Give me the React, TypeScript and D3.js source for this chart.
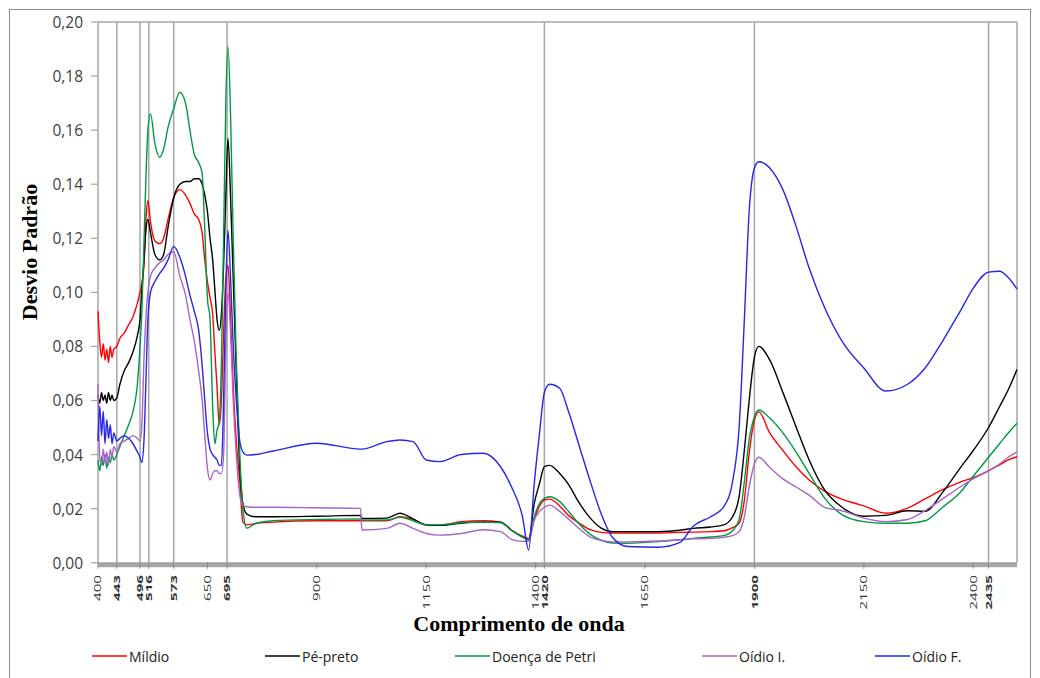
import React from "react";
import * as d3 from "d3";

// wavelength grid (nm)
const wavelengths = [
  400, 404, 408, 412, 416, 420, 424, 428, 432, 436, 443, 450, 460, 470, 480, 490, 496, 500, 505, 510,
  514, 520, 530, 541, 550, 560, 573, 587, 600, 610, 620, 630, 638, 644, 650, 656, 662, 667, 672, 677,
  682, 687, 692, 697, 703, 709, 716, 724, 731, 740, 760, 800, 900, 1000, 1003, 1060, 1090, 1120, 1150, 1180,
  1230, 1280, 1320, 1345, 1370, 1384, 1397, 1409, 1420, 1432, 1455, 1475, 1500, 1525, 1550, 1575, 1610, 1680, 1730, 1760,
  1800, 1830, 1850, 1865, 1877, 1888, 1900, 1910, 1935, 1965, 1995, 2025, 2060, 2100, 2150, 2200, 2250, 2290, 2330, 2370,
  2400, 2435, 2460, 2480, 2500,
];

const mildio = [
  0.093, 0.082, 0.076, 0.081, 0.075, 0.079, 0.074, 0.080, 0.076, 0.079, 0.080, 0.083, 0.085, 0.088, 0.091, 0.096, 0.100, 0.103, 0.110, 0.128,
  0.134, 0.126, 0.119, 0.118, 0.120, 0.127, 0.135, 0.138, 0.136, 0.133, 0.129, 0.127, 0.122, 0.112, 0.104, 0.098, 0.092, 0.078, 0.065, 0.051,
  0.060, 0.085, 0.105, 0.110, 0.090, 0.065, 0.045, 0.030, 0.015, 0.014, 0.0145, 0.015, 0.0155, 0.0155, 0.0155, 0.0155, 0.017, 0.016, 0.014, 0.0138,
  0.0152, 0.0155, 0.015, 0.012, 0.0098, 0.009, 0.016, 0.021, 0.0232, 0.0235, 0.021, 0.0175, 0.0146, 0.0122, 0.0112, 0.011, 0.011, 0.011, 0.0112, 0.0113,
  0.0115, 0.0118, 0.013, 0.0146, 0.0232, 0.0405, 0.0528, 0.0558, 0.048, 0.0415, 0.0355, 0.0306, 0.0265, 0.0235, 0.021, 0.0183, 0.0202, 0.0236, 0.027, 0.0298,
  0.0315, 0.034, 0.0362, 0.038, 0.0392,
];

const pePreto = [
  0.062, 0.059, 0.063, 0.060, 0.062, 0.059, 0.063, 0.060, 0.062, 0.060, 0.061, 0.066, 0.071, 0.074, 0.078, 0.084, 0.090, 0.100, 0.112, 0.124,
  0.127, 0.122, 0.114, 0.112, 0.114, 0.124, 0.135, 0.140, 0.141, 0.141, 0.142, 0.142, 0.140, 0.136, 0.130, 0.120, 0.112, 0.101, 0.090, 0.086,
  0.092, 0.110, 0.135, 0.157, 0.135, 0.105, 0.070, 0.035, 0.022, 0.018, 0.017, 0.017, 0.0172, 0.0175, 0.0164, 0.0165, 0.0183, 0.0162, 0.014, 0.0138,
  0.0146, 0.015, 0.015, 0.012, 0.0095, 0.0085, 0.022, 0.0294, 0.0355, 0.036, 0.033, 0.029, 0.022, 0.0165, 0.0128, 0.0115, 0.0115, 0.0115, 0.012, 0.0127,
  0.0132, 0.014, 0.017, 0.0244, 0.0417, 0.06, 0.076, 0.080, 0.075, 0.063, 0.0503, 0.038, 0.027, 0.0205, 0.0172, 0.0175, 0.0192, 0.019, 0.026, 0.035,
  0.0415, 0.050, 0.0577, 0.064, 0.0715,
];

const doencaPetri = [
  0.038, 0.034, 0.039, 0.036, 0.040, 0.035, 0.039, 0.037, 0.040, 0.038, 0.040, 0.043, 0.047, 0.051, 0.056, 0.066, 0.080, 0.092, 0.118, 0.145,
  0.160, 0.166, 0.155, 0.150, 0.153, 0.161, 0.168, 0.174, 0.170, 0.160, 0.151, 0.148, 0.144, 0.123, 0.098, 0.090, 0.058, 0.044, 0.049, 0.052,
  0.074, 0.120, 0.170, 0.191, 0.165, 0.120, 0.075, 0.040, 0.020, 0.0128, 0.0145, 0.0155, 0.016, 0.0162, 0.0158, 0.0158, 0.0168, 0.0155, 0.014, 0.014,
  0.0148, 0.015, 0.0148, 0.012, 0.0095, 0.0085, 0.017, 0.022, 0.0238, 0.0244, 0.0226, 0.019, 0.0142, 0.0105, 0.0083, 0.0073, 0.0072, 0.0078, 0.0085, 0.009,
  0.0095, 0.010, 0.0118, 0.016, 0.030, 0.0455, 0.054, 0.0565, 0.0535, 0.048, 0.041, 0.033, 0.024, 0.0178, 0.0152, 0.0146, 0.0146, 0.0155, 0.0205, 0.026,
  0.032, 0.039, 0.044, 0.048, 0.0516,
];

const oidioI = [
  0.066, 0.039, 0.036, 0.042, 0.037, 0.041, 0.036, 0.042, 0.039, 0.043, 0.041, 0.044, 0.045, 0.046, 0.047, 0.046, 0.045, 0.050, 0.075, 0.092,
  0.100, 0.106, 0.109, 0.111, 0.112, 0.114, 0.115, 0.106, 0.099, 0.090, 0.082, 0.071, 0.060, 0.047, 0.035, 0.0306, 0.033, 0.034, 0.034, 0.033,
  0.033, 0.040, 0.080, 0.100, 0.085, 0.060, 0.040, 0.025, 0.0213, 0.0207, 0.0205, 0.0205, 0.0203, 0.0201, 0.0121, 0.0127, 0.0146, 0.0127, 0.0108, 0.0102,
  0.0108, 0.0122, 0.0115, 0.0086, 0.0079, 0.008, 0.0158, 0.019, 0.0205, 0.0213, 0.019, 0.0162, 0.0125, 0.0095, 0.0082, 0.0077, 0.0077, 0.008, 0.0085, 0.0088,
  0.009, 0.0094, 0.010, 0.0115, 0.017, 0.028, 0.0365, 0.039, 0.0352, 0.031, 0.028, 0.025, 0.0205, 0.0192, 0.0165, 0.0152, 0.016, 0.0193, 0.0236, 0.028,
  0.031, 0.034, 0.0365, 0.039, 0.041,
];

const oidioF = [
  0.045, 0.058, 0.047, 0.056, 0.044, 0.053, 0.046, 0.051, 0.044, 0.048, 0.045, 0.046, 0.047, 0.046, 0.044, 0.041, 0.039, 0.037, 0.045, 0.070,
  0.090, 0.100, 0.104, 0.107, 0.109, 0.112, 0.117, 0.113, 0.106, 0.099, 0.093, 0.086, 0.073, 0.060, 0.048, 0.042, 0.040, 0.039, 0.038, 0.036,
  0.036, 0.060, 0.100, 0.123, 0.105, 0.080, 0.060, 0.045, 0.041, 0.0398, 0.040, 0.0413, 0.0442, 0.042, 0.042, 0.0448, 0.0454, 0.0448, 0.038, 0.0374,
  0.040, 0.0405, 0.0355, 0.028, 0.017, 0.0047, 0.0295, 0.048, 0.063, 0.066, 0.0645, 0.056, 0.043, 0.030, 0.018, 0.0095, 0.006, 0.0057, 0.0075, 0.0135,
  0.017, 0.0207, 0.030, 0.050, 0.090, 0.130, 0.146, 0.1483, 0.146, 0.138, 0.1245, 0.109, 0.0945, 0.082, 0.072, 0.0635, 0.066, 0.072, 0.082, 0.093,
  0.1015, 0.1075, 0.1078, 0.1055, 0.1012,
];

const seriesNames = ["Míldio", "Pé-preto", "Doença de Petri", "Oídio I.", "Oídio F."];
const seriesValues = [mildio, pePreto, doencaPetri, oidioI, oidioF];
const seriesColors = ["#ff0000", "#000000", "#009a44", "#a666c6", "#2727e6"];

const xTicks = [400, 443, 496, 516, 573, 650, 695, 900, 1150, 1400, 1420, 1650, 1900, 2150, 2400, 2435];
const markedBands = [443, 496, 516, 573, 695, 1420, 1900, 2435];
const yTicks = [0, 0.02, 0.04, 0.06, 0.08, 0.1, 0.12, 0.14, 0.16, 0.18, 0.2];

const legendX = [92, 265, 455, 702, 875];

export default function App() {
  const width = 1040;
  const height = 678;

  // scales
  const x = d3.scaleLinear().domain([400, 2500]).range([98, 1017]);
  const y = d3.scaleLinear().domain([0, 0.2]).range([562.7, 22]);
  const fmt = (v: number) => d3.format(".2f")(v).replace(".", ",");

  const line = d3
    .line<number>()
    .x((_, i) => x(wavelengths[i]))
    .y((d) => y(d))
    .curve(d3.curveMonotoneX);

  const sans = "'Open Sans', 'Noto Sans', sans-serif";
  const serif = "'Liberation Serif', 'DejaVu Serif', serif";
  const bottom = y(0);

  return (
    <svg
      width={width}
      height={height}
      style={{ position: "absolute", left: 0, top: 0, background: "#fff" }}
    >
      {/* outer frame */}
      <rect x={9.5} y={9.5} width={1021} height={700} fill="none" stroke="#8c8c8c" strokeWidth={1} />

      {/* plot frame */}
      <line x1={x(400)} x2={x(2500)} y1={y(0.2)} y2={y(0.2)} stroke="#a6a6a6" strokeWidth={1.5} />
      <line x1={x(2500)} x2={x(2500)} y1={y(0.2)} y2={bottom} stroke="#a6a6a6" strokeWidth={1.5} />
      <line x1={x(400)} x2={x(400)} y1={y(0.2)} y2={bottom} stroke="#a6a6a6" strokeWidth={1.5} />

      {/* band marker lines */}
      {markedBands.map((b) => (
        <line key={b} x1={x(b)} x2={x(b)} y1={y(0.2)} y2={bottom} stroke="#a6a6a6" strokeWidth={1.5} />
      ))}

      {/* y axis */}
      {yTicks.map((t) => (
        <g key={t}>
          <line x1={x(400) - 7} x2={x(400)} y1={y(t)} y2={y(t)} stroke="#a6a6a6" strokeWidth={1.2} />
          <text
            x={83}
            y={y(t)}
            textAnchor="end"
            dominantBaseline="central"
            fontFamily={sans}
            fontSize={15.5}
            fill="#404040"
          >
            {fmt(t)}
          </text>
        </g>
      ))}

      {/* data */}
      {seriesValues.map((vals, i) => (
        <path key={seriesNames[i]} d={line(vals) || ""} fill="none" stroke={seriesColors[i]} strokeWidth={1.4} />
      ))}

      {/* x axis band */}
      <rect x={x(400)} y={bottom - 0.5} width={x(2500) - x(400)} height={5} fill="#a6a6a6" />
      {xTicks.map((t) => (
        <line key={"t" + t} x1={x(t)} x2={x(t)} y1={bottom} y2={bottom + 6} stroke="#8a8a8a" strokeWidth={1} />
      ))}
      {xTicks.map((t) => (
        <text
          key={"l" + t}
          transform={`translate(${x(t)},575) rotate(-90) scale(1.12,0.68)`}
          textAnchor="end"
          dominantBaseline="central"
          fontFamily={sans}
          fontSize={13.5}
          fontWeight={markedBands.includes(t) ? 700 : 400}
          fill="#333"
        >
          {t}
        </text>
      ))}

      {/* axis titles */}
      <text
        transform="translate(37,252) rotate(-90)"
        textAnchor="middle"
        fontFamily={serif}
        fontWeight={700}
        fontSize={22}
        fill="#000"
      >
        Desvio Padrão
      </text>
      <text x={519} y={631} textAnchor="middle" fontFamily={serif} fontWeight={700} fontSize={22} fill="#000">
        Comprimento de onda
      </text>

      {/* legend */}
      {seriesNames.map((name, i) => (
        <g key={"lg" + name} transform={`translate(${legendX[i]},656)`}>
          <line x1={0} x2={35} y1={0} y2={0} stroke={seriesColors[i]} strokeWidth={1.4} />
          <text x={37} y={0} dominantBaseline="central" fontFamily={sans} fontSize={14} fill="#222">
            {name}
          </text>
        </g>
      ))}
    </svg>
  );
}
